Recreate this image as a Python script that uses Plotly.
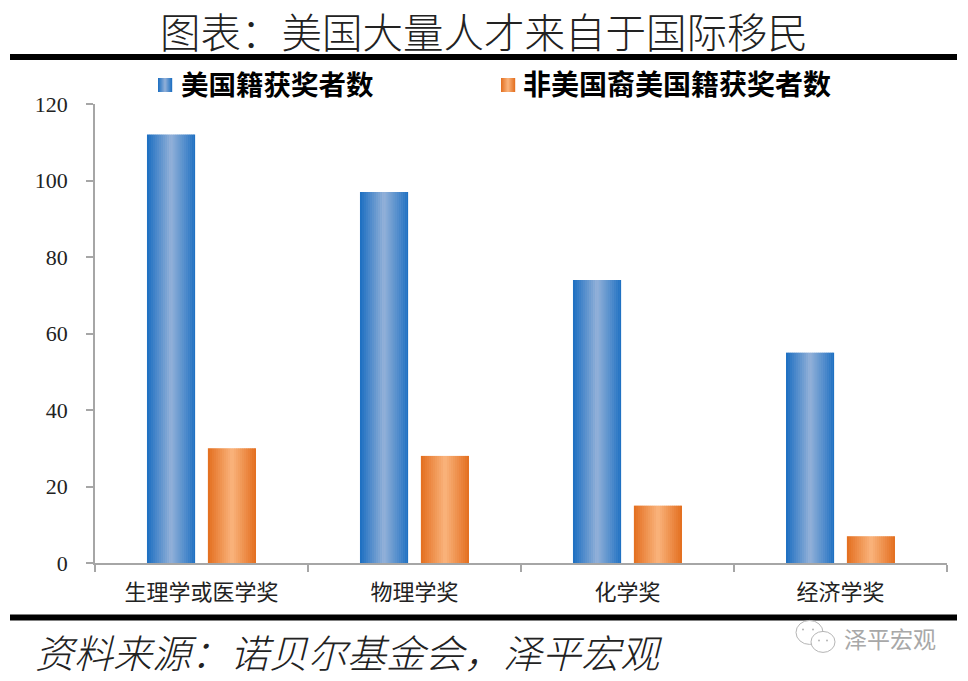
import plotly.graph_objects as go

categories = ["生理学或医学奖", "物理学奖", "化学奖", "经济学奖"]
us_citizens = [112, 97, 74, 55]
foreign_born = [30, 28, 15, 7]
y_ticks = [0, 20, 40, 60, 80, 100, 120]

title_text = "图表：美国大量人才来自于国际移民"
source_text = "资料来源：诺贝尔基金会，泽平宏观"
legend_names = ["美国籍获奖者数", "非美国裔美国籍获奖者数"]
watermark = "泽平宏观"

W, H = 968, 681
LEFT, RIGHT, TOP, BOTTOM = 95, 947, 104, 563.5
CJK = "Noto Sans CJK SC"
SLICES = 24
BAR_W = 0.226
BLUE = ((27, 110, 193), (146, 176, 216))
ORANGE = ((227, 110, 30), (250, 180, 125))
GREY = "#a6a6a6"


def px(x):
    # page pixel to paper coordinate, paper is the plot area
    return (x - LEFT) / (RIGHT - LEFT)


def py(y):
    return (BOTTOM - y) / (BOTTOM - TOP)


def shade(colors, t):
    # t 0..1 across the bar, edge colour at both sides, light in the middle
    k = 1 - abs(2 * t - 1)
    c = [round(a + (b - a) * k) for a, b in zip(*colors)]
    return f"rgb({c[0]},{c[1]},{c[2]})"


fig = go.Figure()

for values, colors, start in [(us_citizens, BLUE, -0.256), (foreign_born, ORANGE, 0.030)]:
    step = BAR_W / SLICES
    for i in range(SLICES):
        fig.add_trace(
            go.Bar(
                x=categories,
                y=values,
                width=step * 1.15 if i < SLICES - 1 else step,
                offset=start + i * step,
                marker=dict(color=shade(colors, (i + 0.5) / SLICES), line_width=0),
                showlegend=False,
                hoverinfo="x+y",
            )
        )

shapes = [
    dict(type="rect", xref="paper", yref="paper", x0=px(10), x1=px(957), y0=py(54), y1=py(60),
         fillcolor="black", line_width=0),
    dict(type="rect", xref="paper", yref="paper", x0=px(10), x1=px(957), y0=py(615), y1=py(621),
         fillcolor="black", line_width=0),
]

# legend swatches with the same gradient as the bars
for left, colors in [(158, BLUE), (501, ORANGE)]:
    for i in range(14):
        shapes.append(
            dict(type="rect", xref="paper", yref="paper",
                 x0=px(left + i), x1=px(left + i + 1.2), y0=py(78), y1=py(92),
                 fillcolor=shade(colors, (i + 0.5) / 14), line_width=0)
        )

# wechat mark next to the watermark
for x0, x1, y0, y1 in [(796, 823, 621, 645), (811, 835, 632, 653)]:
    shapes.append(
        dict(type="circle", xref="paper", yref="paper", x0=px(x0), x1=px(x1), y0=py(y0), y1=py(y1),
             fillcolor="white", line=dict(color="#b5b5b5", width=1))
    )
for x, y in [(803, 630), (813, 630), (819, 641), (827, 641)]:
    shapes.append(
        dict(type="circle", xref="paper", yref="paper", x0=px(x - 1), x1=px(x + 1), y0=py(y - 1), y1=py(y + 1),
             fillcolor="#b5b5b5", line_width=0)
    )

annotations = [
    dict(text=title_text, x=px(484), y=py(30), font=dict(family=CJK, size=40.5, color="#222222", weight=300)),
    dict(text=legend_names[0], x=px(277), y=py(83), font=dict(family=CJK, size=27.5, color="black", weight=700)),
    dict(text=legend_names[1], x=px(676.5), y=py(83), font=dict(family=CJK, size=28, color="black", weight=700)),
    dict(text=source_text, x=px(349), y=py(652), font=dict(family=CJK, size=39, color="#222222", style="italic", weight=300)),
    dict(text=watermark, x=px(890), y=py(639), font=dict(family=CJK, size=23, color="#a8a8a8")),
]
for a in annotations:
    a.update(xref="paper", yref="paper", showarrow=False, xanchor="center", yanchor="middle")

fig.update_layout(
    width=W,
    height=H,
    margin=dict(l=LEFT, r=W - RIGHT, t=TOP, b=H - BOTTOM, pad=0),
    paper_bgcolor="white",
    plot_bgcolor="white",
    barmode="overlay",
    shapes=shapes,
    annotations=annotations,
)
fig.update_xaxes(
    type="category",
    range=[-0.5, 3.5],
    tickson="boundaries",
    ticks="outside",
    ticklen=7,
    tickcolor=GREY,
    tickwidth=1.5,
    showline=True,
    linecolor=GREY,
    linewidth=1.5,
    showgrid=False,
    tickfont=dict(family=CJK, size=22, color="#222222"),
    ticklabelstandoff=9,
)
fig.update_yaxes(
    range=[0, 120],
    tickvals=y_ticks,
    ticks="outside",
    ticklen=7,
    tickcolor=GREY,
    tickwidth=1.5,
    showline=True,
    linecolor=GREY,
    linewidth=1.5,
    showgrid=False,
    zeroline=False,
    tickfont=dict(family="Liberation Serif", size=22, color="#222222"),
    ticklabelstandoff=14,
)

fig.write_html(
    "out.html",
    config={"displayModeBar": False},
    post_script="document.body.style.margin='0';",
)
